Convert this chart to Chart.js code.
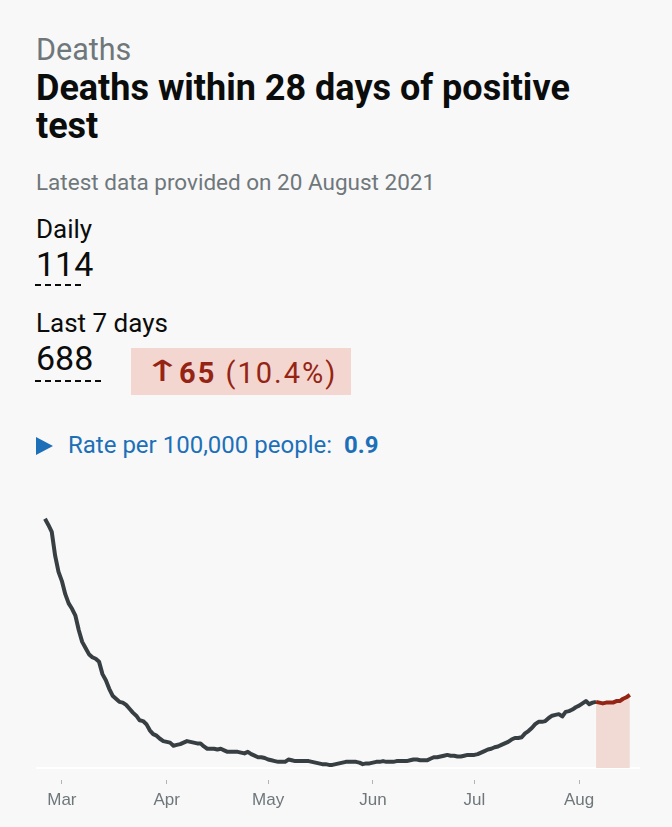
<!DOCTYPE html>
<html>
<head>
<meta charset="utf-8">
<title>Deaths within 28 days of positive test</title>
<script src="https://cdn.jsdelivr.net/npm/chart.js@4.4.0/dist/chart.umd.min.js"></script>
<style>
  body {
    margin: 0;
    width: 672px;
    height: 827px;
    position: relative;
    overflow: hidden;
    background: #f8f8f8;
    font-family: Roboto, "Noto Sans", sans-serif;
    color: #0b0c0c;
  }
  .t { position: absolute; left: 36px; line-height: 1; white-space: nowrap; }
  .caption { top: 35px; font-size: 30.5px; color: #6f777b; }
  .title { font-size: 36px; font-weight: 700; line-height: 38px; top: 69px; }
  .updated { top: 171px; font-size: 22.5px; color: #6f777b; }
  .label { font-size: 26px; }
  .num { font-size: 34px; }
  .dash {
    position: absolute; left: 35px; height: 2px;
    background: repeating-linear-gradient(90deg, #0b0c0c 0 6px, transparent 6px 10px);
  }
  .change {
    position: absolute; left: 131px; top: 348px; width: 220px; height: 47px;
    background: #f4d6d0;
  }
  .change .arrow {
    position: absolute; left: 12px; top: 9px; font-family: "DejaVu Sans", sans-serif;
    font-size: 29px; line-height: 1; color: #942514;
    transform: scaleX(1.6); transform-origin: left center;
  }
  .change .val {
    position: absolute; left: 48px; top: 11px; font-size: 29px; line-height: 1;
    color: #942514; letter-spacing: 2px; white-space: nowrap;
  }
  .rate { top: 433px; left: 68px; font-size: 24px; color: #1d70b8; }
  .tri {
    position: absolute; left: 36px; top: 437px; width: 0; height: 0;
    border-top: 9.5px solid transparent; border-bottom: 9.5px solid transparent;
    border-left: 17px solid #1d70b8;
  }
  #box { position: absolute; left: 0; top: 490px; width: 672px; height: 337px; }
</style>
</head>
<body>
<div class="t caption">Deaths</div>
<div class="t title">Deaths within 28 days of positive<br>test</div>
<div class="t updated">Latest data provided on 20 August 2021</div>

<div class="t label" style="top:216px">Daily</div>
<div class="t num" style="top:247px">114</div>
<div class="dash" style="top:284px; width:50px"></div>

<div class="t label" style="top:310px">Last 7 days</div>
<div class="t num" style="top:341px">688</div>
<div class="dash" style="top:380px; width:66px"></div>

<div class="change"><span class="arrow">&#8593;</span><span class="val"><b>65</b> (10.4%)</span></div>

<div class="tri"></div>
<div class="t rate">Rate per 100,000 people: &nbsp;<b>0.9</b></div>

<div id="box"><canvas id="myChart"></canvas></div>

<script>
// day 0 = 24 Feb 2021, one value per day (7 day average)
const firstDay = "2021-02-24";
const monthLabels = ["Mar", "Apr", "May", "Jun", "Jul", "Aug"];
const monthStarts = [5, 36, 66, 97, 127, 158];
const lastWeekFrom = 163;

const deaths = [
  324, 316, 307, 276, 255, 243, 226, 214, 207, 198,
  179, 164, 156, 148, 144, 142, 138, 122, 114, 103,
  94, 90, 86, 85, 82, 77, 72, 68, 62, 61,
  57, 49, 44, 42, 38, 35, 34, 33, 29, 30,
  31, 33, 35, 34, 33, 32, 32, 28, 25, 25,
  25, 24, 25, 23, 21, 21, 21, 21, 20, 19,
  21, 18, 16, 14, 14, 13, 11, 10, 9, 8,
  8, 8, 11, 10, 9, 9, 9, 9, 9, 8,
  7, 6, 5, 5, 4, 4, 5, 6, 7, 8,
  8, 8, 8, 7, 5, 6, 6, 7, 8, 8,
  9, 8, 8, 8, 9, 9, 9, 9, 10, 11,
  11, 10, 10, 10, 12, 14, 14, 15, 16, 17,
  16, 16, 15, 15, 16, 17, 17, 17, 18, 20,
  22, 24, 25, 27, 28, 30, 32, 34, 37, 39,
  39, 40, 45, 48, 52, 57, 60, 60, 61, 65,
  68, 69, 70, 67, 73, 74, 76, 79, 81, 84,
  87, 83, 85, 86, 85, 84, 85, 85, 85, 87,
  87, 90, 92, 95
];

const points = deaths.map((v, i) => ({ x: i, y: v }));
const olderPoints = points.slice(0, lastWeekFrom + 1);
const recentPoints = points.slice(lastWeekFrom);

const ctx = document.getElementById("myChart").getContext("2d");

const chart = new Chart(ctx, {
  type: "line",
  data: {
    datasets: [
      {
        data: recentPoints,
        borderColor: "#942514",
        backgroundColor: "#f1d9d4",
        borderWidth: 4,
        fill: "origin",
        pointRadius: 0,
        borderJoinStyle: "round"
      },
      {
        data: olderPoints,
        borderColor: "#383f43",
        borderWidth: 4,
        fill: false,
        pointRadius: 0,
        borderJoinStyle: "round"
      }
    ]
  },
  options: {
    responsive: true,
    maintainAspectRatio: false,
    animation: false,
    layout: { padding: { left: 36, right: 32, top: 10, bottom: 18 } },
    plugins: { legend: { display: false }, tooltip: { enabled: false } },
    scales: {
      x: {
        type: "linear",
        min: -2.66,
        max: 176,
        border: { display: false },
        grid: { drawOnChartArea: false, drawTicks: true, tickLength: 4, color: "#b1b4b6" },
        afterBuildTicks: axis => { axis.ticks = monthStarts.map(v => ({ value: v })); },
        afterFit: axis => { axis.height = 29; },
        ticks: {
          autoSkip: false,
          maxRotation: 0,
          padding: 6,
          color: "#6f777b",
          font: { family: "Liberation Sans", size: 17 },
          callback: v => monthLabels[monthStarts.indexOf(v)]
        }
      },
      y: {
        min: -15.6,
        max: 348.4,
        border: { display: false },
        grid: { color: "#ffffff", lineWidth: 2, drawTicks: false },
        afterBuildTicks: axis => { axis.ticks = [{ value: 0 }]; },
        afterFit: axis => { axis.width = 0; },
        ticks: { display: false }
      }
    }
  }
});
</script>
</body>
</html>
